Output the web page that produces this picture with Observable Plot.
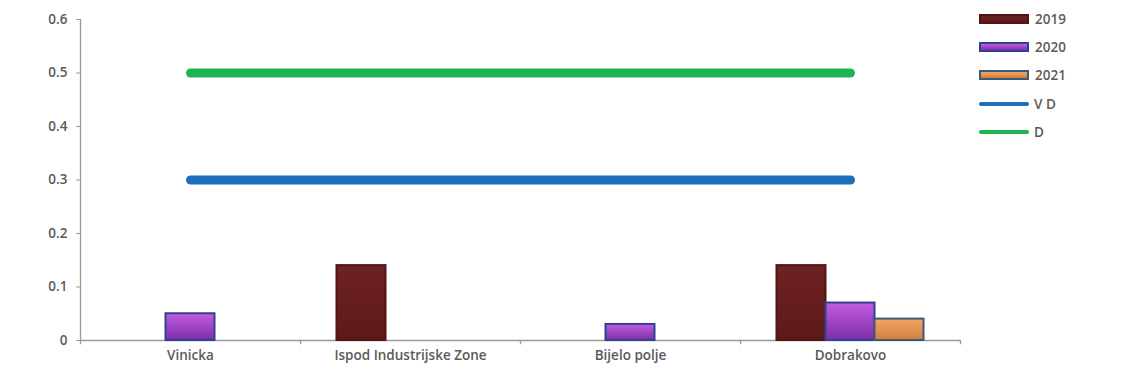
<!DOCTYPE html>
<html>
<head>
<meta charset="utf-8">
<script src="https://cdn.jsdelivr.net/npm/d3@7"></script>
<script src="https://cdn.jsdelivr.net/npm/@observablehq/plot@0.6"></script>
<style>
  body { margin: 0; background: #fff; font-family: "Open Sans", sans-serif; }
  #wrap { position: relative; width: 1126px; height: 377px; }
  .legend { position: absolute; left: 979px; top: 0; font-size: 13.5px; color: #5a5a5a; }
  .legend .row { position: absolute; left: 0; display: flex; align-items: center; white-space: nowrap; }
  .legend .sw { width: 46px; height: 6px; margin-right: 6px; }
  .legend .ln { width: 50px; height: 4px; border-radius: 2px; margin-right: 5px; }
</style>
</head>
<body>
<div id="wrap"></div>
<script>
// Measurement sites along the x axis
const sites = ["Vinicka", "Ispod Industrijske Zone", "Bijelo polje", "Dobrakovo"];
const years = ["2019", "2020", "2021"];

// Measured values per year (missing = no bar)
const values2019 = [null, 0.14, null, 0.14];
const values2020 = [0.05, null, 0.03, 0.07];
const values2021 = [null, null, null, 0.04];

// Reference limits drawn as horizontal lines across the sites
const limitNames = ["V D", "D"];
const limitValues = [0.3, 0.5];

const yTicks = [0, 0.1, 0.2, 0.3, 0.4, 0.5, 0.6];

const seriesStyle = {
  "2019": {fill: "url(#g2019)", stroke: "#521515"},
  "2020": {fill: "url(#g2020)", stroke: "#30428f"},
  "2021": {fill: "url(#g2021)", stroke: "#3c5a76"}
};
const limitColors = {"V D": "#1f6dbb", "D": "#1db552"};

const seriesValues = [values2019, values2020, values2021];
const barRows = years.map((year, i) =>
  sites.map((site, j) => ({site, year, value: seriesValues[i][j]}))
       .filter(d => d.value != null));

const limitRows = limitNames.flatMap((name, i) =>
  sites.map(site => ({site, name, value: limitValues[i]})));

const W = 1126, H = 377;
const mL = 80, mR = 166, mT = 19, mB = 37;
const band = (W - mL - mR) / sites.length;
const barW = 49;
const inset = (band - barW) / 2;
const grey = "#9a9a9a";
const textGrey = "#5a5a5a";

const chart = Plot.plot({
  width: W,
  height: H,
  marginLeft: mL,
  marginRight: mR,
  marginTop: mT,
  marginBottom: mB,
  style: {fontFamily: "'Open Sans', sans-serif", fontSize: "13.5px", color: textGrey, background: "#fff"},
  x: {domain: sites, padding: 0, label: null},
  y: {domain: [0, 0.6], label: null},
  marks: [
    // axis lines and category boundary ticks
    Plot.ruleY([0], {stroke: grey, strokeWidth: 1.3}),
    Plot.ruleX(sites, {x: d => d, dx: -band / 2, y1: -0.008, y2: d => d === sites[0] ? 0.6 : 0, stroke: grey, strokeWidth: 1.3}),
    Plot.ruleX([sites[sites.length - 1]], {x: d => d, dx: band / 2, y1: -0.008, y2: 0, stroke: grey, strokeWidth: 1.3}),
    Plot.axisY({ticks: yTicks, tickSize: 4, tickPadding: 9, stroke: grey, tickFormat: d3.format("~g"), fill: textGrey, fontWeight: 600}),
    Plot.axisX({tickSize: 0, tickPadding: 10, fill: textGrey, fontWeight: 600}),
    // bars, one mark per year, offset inside the site band
    ...years.map((year, i) => Plot.barY(barRows[i], {
      x: "site", y: "value",
      fill: seriesStyle[year].fill, stroke: seriesStyle[year].stroke, strokeWidth: 2,
      insetLeft: inset, insetRight: inset, dx: (i - 1) * barW
    })),
    // limit lines
    ...limitNames.map(name => Plot.line(limitRows.filter(d => d.name === name), {
      x: "site", y: "value", stroke: limitColors[name], strokeWidth: 9, strokeLinecap: "round"
    }))
  ]
});

// gradients used by the bar fills
const defs = d3.select(chart).insert("defs", ":first-child");
const grads = {
  g2019: ["#6f2222", "#5e1919"],
  g2020: ["#c25ce0", "#7e2ea8"],
  g2021: ["#efa766", "#d37f3c"]
};
for (const [id, [top, bottom]] of Object.entries(grads)) {
  const g = defs.append("linearGradient").attr("id", id).attr("x1", 0).attr("y1", 0).attr("x2", 0).attr("y2", 1);
  g.append("stop").attr("offset", "0%").attr("stop-color", top);
  g.append("stop").attr("offset", "100%").attr("stop-color", bottom);
}

const wrap = document.getElementById("wrap");
wrap.appendChild(chart);

// legend on the right
const legend = document.createElement("div");
legend.className = "legend";
const legendRows = [
  ...years.map(y => ({label: y, kind: "bar", fill: seriesStyle[y].fill.replace(/url\(#(\w+)\)/, (m, id) => `linear-gradient(${grads[id][0]}, ${grads[id][1]})`), stroke: seriesStyle[y].stroke})),
  ...limitNames.map(n => ({label: n, kind: "line", color: limitColors[n]}))
];
const rowTops = [19, 47, 75, 104, 132];
legendRows.forEach((r, i) => {
  const row = document.createElement("div");
  row.className = "row";
  row.style.top = (rowTops[i] - 9) + "px";
  row.style.height = "18px";
  const sw = document.createElement("div");
  if (r.kind === "bar") {
    sw.className = "sw";
    sw.style.background = r.fill;
    sw.style.border = `2px solid ${r.stroke}`;
  } else {
    sw.className = "ln";
    sw.style.background = r.color;
  }
  const t = document.createElement("span");
  t.textContent = r.label;
  t.style.fontWeight = "600";
  row.appendChild(sw);
  row.appendChild(t);
  legend.appendChild(row);
});
wrap.appendChild(legend);
</script>
</body>
</html>
